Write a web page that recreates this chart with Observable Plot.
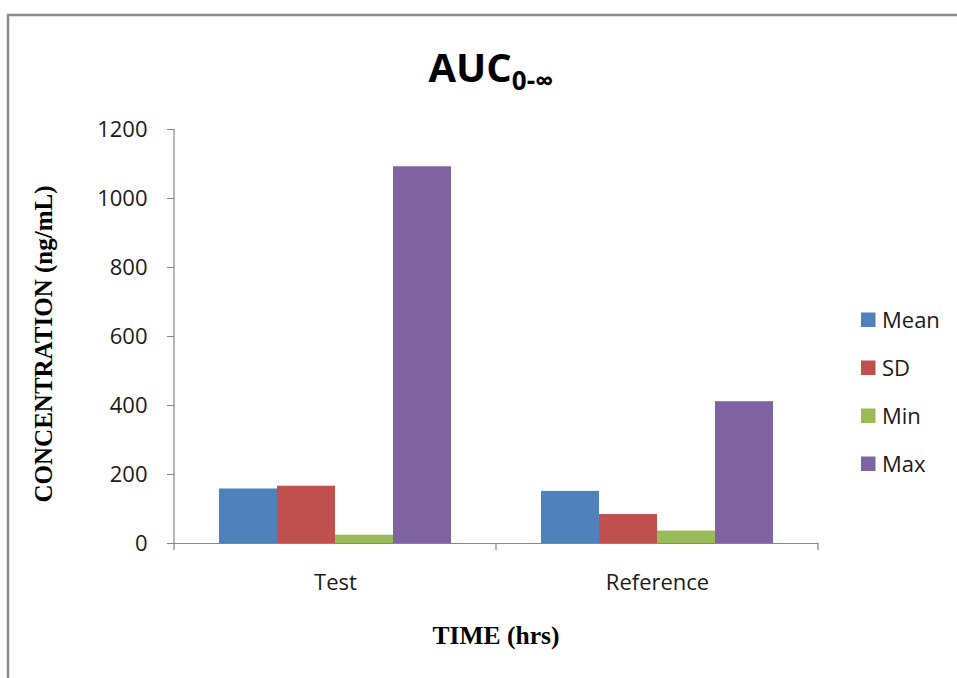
<!DOCTYPE html>
<html>
<head>
<meta charset="utf-8">
<script src="https://cdn.jsdelivr.net/npm/d3@7"></script>
<script src="https://cdn.jsdelivr.net/npm/@observablehq/plot@0.6"></script>
<style>
  body { margin: 0; background: #fff; }
  #chart svg { display: block; }
</style>
</head>
<body>
<div id="chart"></div>
<script>
// AUC(0-inf) summary statistics for the two formulations
const groups = ["Test", "Reference"];
const series = ["Mean", "SD", "Min", "Max"];
const testValues = [158, 166, 24, 1092];
const referenceValues = [151, 84, 36, 411];
const seriesColors = ["#4F81BD", "#C0504D", "#9BBB59", "#8064A2"];
const yTicks = [0, 200, 400, 600, 800, 1000, 1200];

const rows = [];
series.forEach((s, i) => {
  rows.push({group: groups[0], series: s, value: testValues[i]});
  rows.push({group: groups[1], series: s, value: referenceValues[i]});
});

const W = 957, H = 678;
const axisGray = "#868686";
const textColor = "#1a1a1a";
const sans = "'Open Sans', 'Liberation Sans', sans-serif";
const serif = "'Liberation Serif', 'DejaVu Serif', serif";

const chart = Plot.plot({
  width: W,
  height: H,
  marginLeft: 174,
  marginRight: 139,
  marginTop: 129,
  marginBottom: 135,
  style: {fontFamily: sans, background: "transparent", color: textColor},
  fx: {domain: groups, padding: 0},
  x: {domain: series, paddingInner: 0, paddingOuter: 0.745, axis: null},
  y: {domain: [yTicks[0], yTicks[yTicks.length - 1]], nice: false},
  color: {domain: series, range: seriesColors},
  marks: [
    Plot.barY(rows, {fx: "group", x: "series", y: "value", fill: "series"}),
    Plot.ruleY([0], {stroke: axisGray, strokeWidth: 1.2}),
    Plot.axisY({
      ticks: yTicks,
      tickFormat: d3.format("d"),
      tickSize: 7,
      tickPadding: 20,
      fontSize: 22,
      stroke: axisGray,
      fill: textColor,
      label: null
    }),
    Plot.axisFx({
      anchor: "bottom",
      tickSize: 0,
      tickPadding: 31,
      fontSize: 22,
      fill: textColor,
      label: null
    })
  ]
});

document.getElementById("chart").appendChild(chart);

const svg = d3.select(chart);
const fx = chart.scale("fx");
const y = chart.scale("y");
const color = chart.scale("color");
const y0 = y.apply(0);
const yTop = y.apply(yTicks[yTicks.length - 1]);

// category boundaries along the bottom axis
const edges = groups.map(g => fx.apply(g));
edges.push(fx.apply(groups[groups.length - 1]) + fx.bandwidth);

const axes = svg.append("g")
  .attr("stroke", axisGray)
  .attr("stroke-width", 1.2);
axes.append("line")
  .attr("x1", edges[0]).attr("x2", edges[0])
  .attr("y1", yTop).attr("y2", y0);
axes.selectAll("line.edge")
  .data(edges)
  .join("line")
  .attr("class", "edge")
  .attr("x1", d => d).attr("x2", d => d)
  .attr("y1", y0).attr("y2", y0 + 7);

// chart title with subscript
const title = svg.append("text")
  .attr("x", 491)
  .attr("y", 82)
  .attr("text-anchor", "middle")
  .attr("font-family", sans)
  .attr("font-weight", "bold")
  .attr("font-size", 40)
  .attr("fill", "#000");
title.append("tspan").text("AUC");
title.append("tspan").attr("font-size", 26).attr("dy", 8).text("0-∞");

// axis titles
svg.append("text")
  .attr("x", (edges[0] + edges[edges.length - 1]) / 2)
  .attr("y", 644)
  .attr("text-anchor", "middle")
  .attr("font-family", serif)
  .attr("font-weight", "bold")
  .attr("font-size", 25.5)
  .attr("fill", "#000")
  .text("TIME (hrs)");

svg.append("text")
  .attr("transform", `translate(52,${(yTop + y0) / 2 + 8}) rotate(-90)`)
  .attr("text-anchor", "middle")
  .attr("font-family", serif)
  .attr("font-weight", "bold")
  .attr("font-size", 25)
  .attr("fill", "#000")
  .text("CONCENTRATION (ng/mL)");

// legend
const legend = svg.append("g")
  .attr("font-family", sans)
  .attr("font-size", 22)
  .attr("text-anchor", "start")
  .attr("fill", textColor);
const item = legend.selectAll("g")
  .data(series)
  .join("g")
  .attr("transform", (d, i) => `translate(861,${320 + i * 48})`);
item.append("rect")
  .attr("x", 0).attr("y", -7.5)
  .attr("width", 14.5).attr("height", 14.5)
  .attr("fill", d => color.apply(d));
item.append("text")
  .attr("x", 21)
  .attr("dy", "0.36em")
  .attr("text-anchor", "start")
  .text(d => d);

// outer chart border
svg.append("rect")
  .attr("x", 8).attr("y", 15)
  .attr("width", W + 20).attr("height", H + 20)
  .attr("fill", "none")
  .attr("stroke", "#8a8a8a")
  .attr("stroke-width", 2.5);
</script>
</body>
</html>
